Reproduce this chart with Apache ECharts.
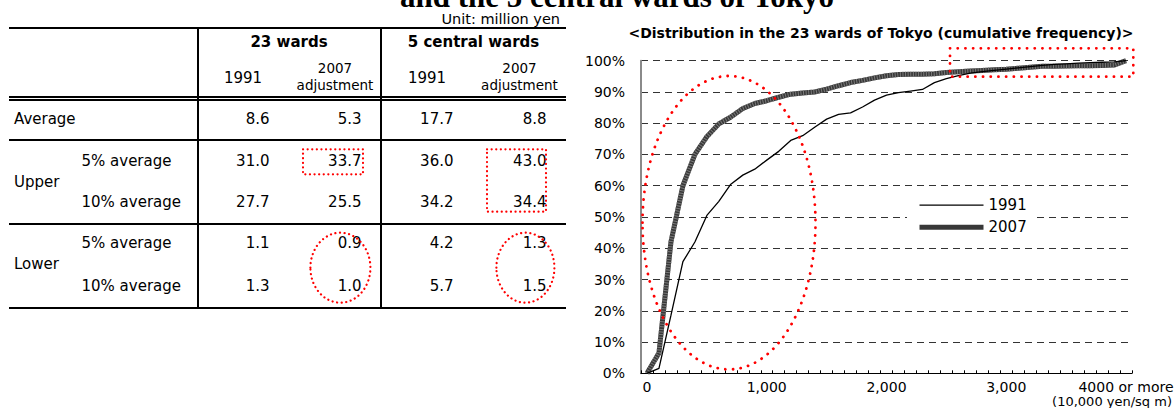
<!DOCTYPE html>
<html>
<head>
<meta charset="utf-8">
<script src="https://cdn.jsdelivr.net/npm/echarts/dist/echarts.min.js"></script>
<style>
  html, body { margin: 0; padding: 0; background: #fff; }
  #wrap { position: relative; width: 1174px; height: 408px; overflow: hidden; font-family: "DejaVu Sans", sans-serif; color: #000; }
  #table { position: absolute; left: 0; top: 0; width: 1174px; height: 408px; z-index: 1; }
  #chart { position: absolute; left: 0; top: 0; width: 1174px; height: 408px; z-index: 2; }
  .t { position: absolute; white-space: nowrap; }
  .r { position: absolute; background: #000; }
</style>
</head>
<body>
<div id="wrap">
  <div id="table"></div>
  <div id="chart"></div>
</div>
<script>
// ---------------- Data ----------------
// Table (Unit: million yen)
const unitLabel = 'Unit: million yen';
const wardGroups = ['23 wards', '5 central wards'];
const yearHeaders = ['1991', '2007<br>adjustment', '1991', '2007<br>adjustment'];
const rowLabels = ['Average', '5% average', '10% average', '5% average', '10% average'];
const groupLabels = ['Upper', 'Lower'];
const averageValues = [8.6, 5.3, 17.7, 8.8];
const upper5Values = [31.0, 33.7, 36.0, 43.0];
const upper10Values = [27.7, 25.5, 34.2, 34.4];
const lower5Values = [1.1, 0.9, 4.2, 1.3];
const lower10Values = [1.3, 1.0, 5.7, 1.5];

// Chart: cumulative frequency (%) by land price (10,000 yen/sq m)
const priceCategories = ['0','100','200','300','400','500','600','700','800','900',
  '1000','1100','1200','1300','1400','1500','1600','1700','1800','1900',
  '2000','2100','2200','2300','2400','2500','2600','2700','2800','2900',
  '3000','3100','3200','3300','3400','3500','3600','3700','3800','3900','4000 or more'];
const xTickLabels = ['0', '1,000', '2,000', '3,000', '4000 or more'];
const cum1991 = [0, 1.6, 18.5, 35.7, 42, 50.5, 55, 60.5, 63.4, 65.3,
  68.2, 71, 74.5, 76, 78.7, 81.3, 82.8, 83.3, 85.2, 87.4,
  89.0, 89.8, 90.3, 90.8, 93.0, 94.3, 95.2, 96.0, 96.5, 96.9,
  97.3, 97.7, 98.1, 98.5, 98.8, 99.0, 99.2, 99.4, 99.5, 99.6, 100];
const cum2007 = [0, 6.5, 42, 60, 70, 75.7, 79.8, 82, 84.7, 86.3,
  87.2, 88.3, 89.3, 89.7, 90.0, 90.9, 92.0, 93.0, 93.7, 94.5,
  95.2, 95.6, 95.7, 95.7, 95.8, 96.2, 96.5, 96.7, 96.9, 97.1,
  97.3, 97.6, 97.9, 98.2, 98.2, 98.3, 98.4, 98.4, 98.5, 98.6, 100];

// ---------------- Table (HTML) ----------------
const colEdges = [9, 197, 289, 381, 473, 566];
const bodyRows = [averageValues, upper5Values, upper10Values, lower5Values, lower10Values];
const bodyCenters = [118.5, 160.7, 202.3, 243.3, 285.7];
const groupCenters = [181.5, 264.3];
const hRules = [[27, 2], [95.7, 2], [99, 2], [139, 2], [223.3, 2], [307.3, 2]];
const vRules = [196.5, 380];

const tbl = document.getElementById('table');
function addText(html, left, cy, width, align, size, weight, lh) {
  const d = document.createElement('div');
  d.className = 't';
  const h = lh || 20;
  d.style.left = left + 'px';
  d.style.width = width + 'px';
  d.style.textAlign = align;
  d.style.fontSize = size + 'px';
  d.style.fontWeight = weight || 'normal';
  d.style.lineHeight = h + 'px';
  const lines = html.split('<br>').length;
  d.style.top = (cy - h * lines / 2) + 'px';
  d.innerHTML = html;
  tbl.appendChild(d);
}
function addRule(x, y, w, h) {
  const d = document.createElement('div');
  d.className = 'r';
  d.style.left = x + 'px'; d.style.top = y + 'px';
  d.style.width = w + 'px'; d.style.height = h + 'px';
  tbl.appendChild(d);
}
addText(unitLabel, 300, 19.4, 260, 'right', 14.5, 'normal', 15);
hRules.forEach(r => addRule(colEdges[0], r[0], colEdges[5] - colEdges[0], r[1]));
vRules.forEach(x => addRule(x, 27, 2, 282.3));
// group headers
wardGroups.forEach((g, i) => {
  const l = colEdges[1 + i * 2], rr = colEdges[3 + i * 2];
  addText(g, l, 41.7, rr - l, 'center', 15, 'bold');
});
// year headers
yearHeaders.forEach((h, i) => {
  const l = colEdges[1 + i], rr = colEdges[2 + i];
  if (h.indexOf('<br>') >= 0) addText(h, l, 77.4, rr - l, 'center', 13.5, 'normal', 17.2);
  else addText(h, l, 77.7, rr - l, 'center', 15);
});
// row labels
addText(rowLabels[0], 14, bodyCenters[0], 180, 'left', 15);
for (let i = 1; i < rowLabels.length; i++) addText(rowLabels[i], 81.5, bodyCenters[i], 115, 'left', 15);
groupLabels.forEach((g, i) => addText(g, 14, groupCenters[i], 80, 'left', 15));
// values
bodyRows.forEach((row, ri) => {
  row.forEach((v, ci) => {
    const l = colEdges[1 + ci], rr = colEdges[2 + ci];
    addText(v.toFixed(1), l, bodyCenters[ri], rr - l - 19.5, 'right', 15);
  });
});

// ---------------- Chart (ECharts) ----------------
const chart = echarts.init(document.getElementById('chart'), null, { renderer: 'svg' });
const FONT = 'DejaVu Sans';
const redDots = (w, gap) => ({ fill: 'none', stroke: '#ff0000', lineWidth: w, lineDash: [0.1, gap], lineCap: 'round' });

const option = {
  animation: false,
  backgroundColor: 'transparent',
  title: [
    { text: 'and the 5 central wards of Tokyo', left: 617, top: -3.5, padding: 0,
      textAlign: 'center', textVerticalAlign: 'middle',
      textStyle: { fontFamily: 'Liberation Serif', fontWeight: 'bold', fontSize: 31, lineHeight: 20, color: '#000' } },
    { text: '<Distribution in the 23 wards of Tokyo (cumulative frequency)>', left: 881, top: 33.3, padding: 0,
      textAlign: 'center', textVerticalAlign: 'middle',
      textStyle: { fontFamily: FONT, fontWeight: 'bold', fontSize: 14, color: '#000' } },
    { text: '(10,000 yen/sq m)', left: 1172, top: 401.5, padding: 0,
      textAlign: 'right', textVerticalAlign: 'middle',
      textStyle: { fontFamily: FONT, fontWeight: 'normal', fontSize: 13, lineHeight: 10, color: '#000' } }
  ],
  legend: {
    data: ['1991', '2007'], orient: 'vertical', left: 907, top: 194.7,
    itemWidth: 64, itemHeight: 16, itemGap: 7, padding: [3, 8, 3, 10],
    backgroundColor: '#fff', selectedMode: false,
    textStyle: { fontFamily: FONT, fontSize: 15, color: '#000' },
    lineStyle: { width: 'inherit' }, itemStyle: { opacity: 0 }
  },
  grid: { left: 641, top: 60.7, width: 491, height: 312.6, containLabel: false, outerBoundsMode: 'none' },
  xAxis: {
    type: 'category', data: priceCategories, boundaryGap: true,
    axisLine: { show: true, lineStyle: { color: '#000', width: 1 } },
    axisTick: { show: true, inside: true, length: 3, interval: 0, lineStyle: { color: '#000' } },
    axisLabel: { interval: 9, margin: 7, fontFamily: FONT, fontSize: 14, lineHeight: 13, color: '#000',
      formatter: (v, idx) => xTickLabels[Math.round(idx / 10)] },
    splitLine: { show: false }
  },
  yAxis: {
    type: 'value', min: 0, max: 100, interval: 10,
    axisLine: { show: true, lineStyle: { color: '#8a8a8a', width: 2 } },
    axisTick: { show: false },
    axisLabel: { margin: 16, fontFamily: FONT, fontSize: 14, color: '#000', formatter: '{value}%' },
    splitLine: { show: true, lineStyle: { color: '#333', width: 1, type: [7, 5] } }
  },
  series: [
    { name: '2007', type: 'line', data: cum2007, symbol: 'none', z: 2,
      lineStyle: { color: '#383838', width: 5 }, itemStyle: { color: '#383838' } },
    { name: '2007 texture', type: 'line', data: cum2007, symbol: 'none', z: 2, silent: true,
      lineStyle: { color: '#7a7a7a', width: 5, type: [1, 1.6] }, itemStyle: { color: '#7a7a7a' } },
    { name: '1991', type: 'line', data: cum1991, symbol: 'none', z: 3,
      lineStyle: { color: '#000', width: 1.3 }, itemStyle: { color: '#000' } }
  ],
  graphic: [
    { type: 'ellipse', z: 100, shape: { cx: 729, cy: 222.7, rx: 86.5, ry: 146.7 }, style: redDots(2.8, 7.6) },
    { type: 'rect', z: 100, shape: { x: 950, y: 48.3, width: 183.3, height: 28.4 }, style: redDots(2.8, 7.6) },
    { type: 'rect', z: 100, shape: { x: 303, y: 149.3, width: 60, height: 25 }, style: redDots(2.2, 4.5) },
    { type: 'rect', z: 100, shape: { x: 487, y: 149.3, width: 59, height: 62.4 }, style: redDots(2.2, 4.5) },
    { type: 'ellipse', z: 100, shape: { cx: 340.4, cy: 267.7, rx: 30, ry: 35 }, style: redDots(2.2, 4.5) },
    { type: 'ellipse', z: 100, shape: { cx: 525.4, cy: 267.7, rx: 29, ry: 35 }, style: redDots(2.2, 4.5) }
  ]
};
chart.setOption(option);
</script>
</body>
</html>
